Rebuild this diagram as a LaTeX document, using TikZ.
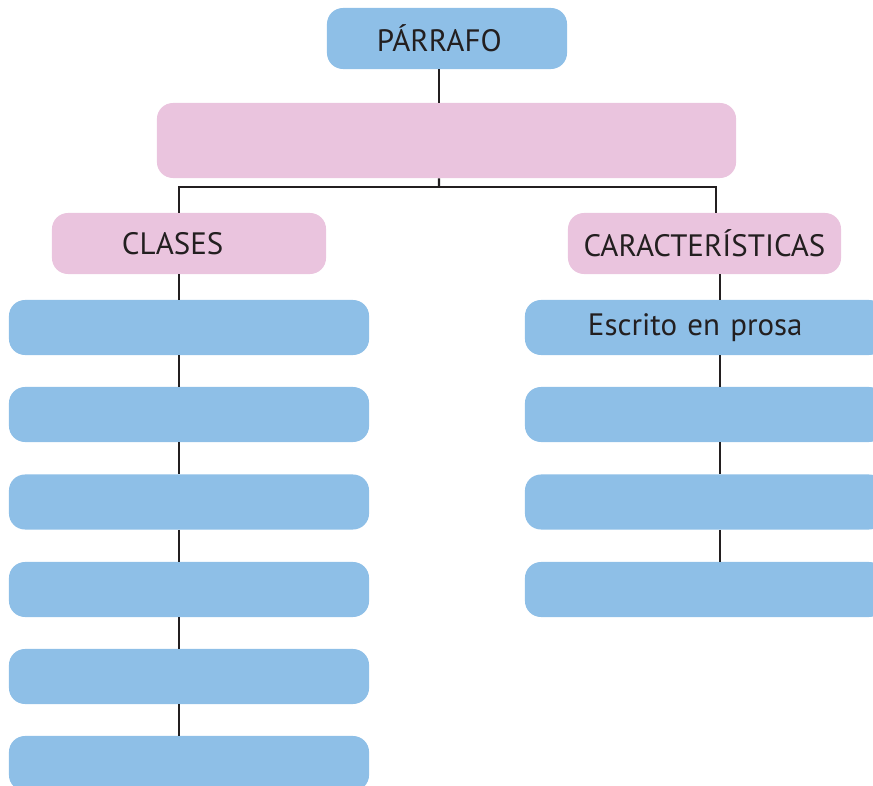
\documentclass[tikz,border=0pt]{standalone}
\usepackage{fontspec}
\setmainfont{PT Sans}
\definecolor{azul}{HTML}{8EBFE7}
\definecolor{rosa}{HTML}{EAC4DE}
\definecolor{tinta}{HTML}{231F20}

\begin{document}
\begin{tikzpicture}[x=0.025cm,y=-0.025cm,
  caja/.style={rounded corners=0.4cm, draw=none, inner ysep=0pt, minimum height=1.375cm, text=tinta, font=\fontsize{22}{26}\selectfont},
  azulcaja/.style={caja, fill=azul},
  rosacaja/.style={caja, fill=rosa},
  linea/.style={draw=tinta, line width=1.5pt}]
\useasboundingbox (0,0) rectangle (873,786);
\clip (0,0) rectangle (873,786);

\node[azulcaja, minimum height=1.525cm, text width=3.5cm, inner xsep=1.25cm, align=left] (1) at (447,38.5) {PÁRRAFO};
\node[rosacaja, minimum width=14.475cm, minimum height=1.875cm] (2) at (446.5,140.5) {};

\node[rosacaja, minimum height=1.525cm, text width=3.35cm, inner xsep=1.75cm, align=left] (31) at (189,243.5) {CLASES};
\node[rosacaja, minimum width=6.825cm, minimum height=1.525cm, inner xsep=0pt] (32) at (704.5,243.5) {CARACTERÍSTICAS};

\foreach \n/\y in {1/327.5,2/414.5,3/502,4/589.5,5/676.5,6/763.5}
  \node[azulcaja, minimum width=9cm] (4\n) at (189,\y) {};

\node[azulcaja, text width=5.85cm, inner xsep=1.575cm, align=left] (51) at (705,327.5) {Escrito en prosa};
\foreach \n/\y in {2/414.5,3/502,4/589.5}
  \node[azulcaja, minimum width=9cm] (5\n) at (705,\y) {};

\coordinate (r) at (439,187);
\draw[linea] ([xshift=-0.2cm]1.south) -- ([xshift=-0.1875cm]2.north);
\draw[linea] ([xshift=-0.1875cm]2.south) -- (r);
\draw[linea] (r) -| ([xshift=-0.25cm]31.north);
\draw[linea] (r) -| ([xshift=0.2875cm]32.north);

\draw[linea] ([xshift=-0.25cm]31.south) -- ([xshift=-0.25cm]41.north);
\foreach \a/\b in {1/2,2/3,3/4,4/5,5/6}
  \draw[linea] ([xshift=-0.25cm]4\a.south) -- ([xshift=-0.25cm]4\b.north);

\draw[linea] ([xshift=0.3875cm]32.south) -- ([xshift=0.375cm]51.north);
\foreach \a/\b in {1/2,2/3,3/4}
  \draw[linea] ([xshift=0.375cm]5\a.south) -- ([xshift=0.375cm]5\b.north);
\end{tikzpicture}
\end{document}
